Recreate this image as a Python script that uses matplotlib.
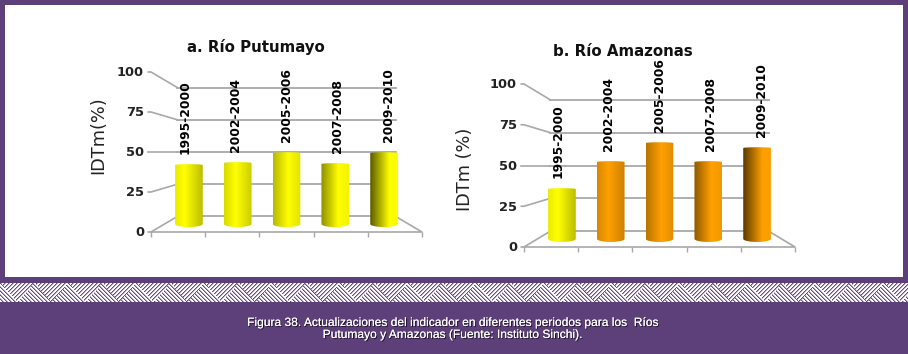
import numpy as np
import matplotlib
matplotlib.use("Agg")
import matplotlib.pyplot as plt
import matplotlib.patheffects as pe
from matplotlib.patches import PathPatch, Rectangle
from matplotlib.path import Path

W, H = 908, 354
PURPLE = "#5D3F7A"
GRID = "#A8A8A8"

#Chart values
periods = ["1995-2000", "2002-2004", "2005-2006", "2007-2008", "2009-2010"]
putumayo = [41, 42.4, 49.3, 41.7, 49.3]
amazonas = [34, 52.4, 65.3, 52.4, 61.9]
amazonas_colors = ["yellow", "orange", "orange", "orange", "orange"]
y_ticks = [0, 25, 50, 75, 100]
caption = ["Figura 38. Actualizaciones del indicador en diferentes periodos para los  Ríos",
           "Putumayo y Amazonas (Fuente: Instituto Sinchi)."]

BACK = 0.806  #perspective scale of the back wall
MID = 0.9     #perspective scale where the cylinders stand
LABEL = 0.94  #the period labels spread a little wider than the cylinders
base_rgb = {"yellow": np.array([255, 255, 0]) / 255, "orange": np.array([255, 160, 0]) / 255}
#shading of each cylinder, left edge, brightest point and right edge
left_shade = [0.92, 0.85, 0.72, 0.55, 0.35]
peak_pos = [0.35, 0.42, 0.55, 0.62, 0.7]
right_shade = [0.74, 0.8, 0.88, 0.95, 0.98]


def project(x, v, s):
    #perspective around the middle of the floor, v=50 stays level
    return 2.5 + (np.asarray(x) - 2.5) * s, 50 + (np.asarray(v) - 50) * s


def cylinder(ax, i, value, color):
    half = 0.255
    xc, top = project(i + 0.5, value, MID)
    _, bottom = project(i + 0.5, 0, MID)
    t = np.linspace(0, np.pi, 40)
    ex = np.cos(t) * half
    #top edge then bottom edge, both slightly rounded
    px = np.r_[xc + ex, xc - ex]
    py = np.r_[top + np.sin(t) * 0.5, bottom - np.sin(t) * 1.9]
    u = np.linspace(0, 1, 120)
    shade = np.interp(u, [0, peak_pos[i], 1], [left_shade[i], 1, right_shade[i]])
    img = (shade[:, None] * base_rgb[color])[None, :, :]
    im = ax.imshow(img, extent=[xc - half, xc + half, bottom - 3, top + 1],
                   aspect="auto", zorder=3, interpolation="bilinear")
    clip = PathPatch(Path(np.c_[px, py]), transform=ax.transData, fc="none", ec="none")
    ax.add_patch(clip)
    im.set_clip_path(clip)
    lx, _ = project(i + 0.5, value, LABEL)
    ax.annotate(periods[i], (lx, top), xytext=(0, 8), textcoords="offset points",
                rotation=90, ha="center", va="bottom", fontsize=8.9, fontweight="bold",
                color="black", zorder=4, annotation_clip=False)


def chart(left, right, y0, y100, values, colors):
    ax = fig.add_axes([left / W, 1 - y0 / H, (right - left) / W, (y0 - y100) / H])
    ax.set_axis_off()
    for v in y_ticks:
        bx0, by = project(0, v, BACK)
        bx1, _ = project(5, v, BACK)
        ax.plot([bx0, bx1], [by, by], color=GRID, lw=1.3, zorder=1, clip_on=False)
        ax.plot([-0.05, 0, bx0], [v, v, by], color=GRID, lw=1.2, zorder=1, clip_on=False)
        ax.annotate(str(v), (0, v), xytext=(-5, -0.7), textcoords="offset points", ha="right",
                    va="center", fontsize=9.4, fontweight="bold", color="#222222",
                    annotation_clip=False)
    bx, by = project(5, 0, BACK)
    ax.plot([0, 5, bx], [0, 0, by], color=GRID, lw=1.2, zorder=1, clip_on=False)
    ax.vlines(range(6), -3, 0, color=GRID, lw=1, clip_on=False)
    for i, value in enumerate(values):
        cylinder(ax, i, value, colors[i])
    ax.set_xlim(0, 5)
    ax.set_ylim(0, 100)
    return ax


def label(x, y, s, **kw):
    return fig.text(x / W, 1 - y / H, s, ha="center", va="center", **kw)


fig = plt.figure(figsize=(W / 100, H / 100), dpi=100, facecolor=PURPLE)

#page background: white panel and the woven band
bg = fig.add_axes([0, 0, 1, 1])
bg.set_xlim(0, W)
bg.set_ylim(H, 0)
bg.set_axis_off()
bg.add_patch(Rectangle((5, 5), 898, 272, fc="white", ec="none"))
yy, xx = np.mgrid[0:19, 0:W]
period = 34
inside = np.abs((xx % period) - period / 2) < (18.5 - yy) * (period / 2) / 19
phase = np.where(inside, (xx + yy) % 4, (xx - yy) % 4)
band = np.ones((19, W, 3))
band[phase == 0] = matplotlib.colors.to_rgb("#654A86")
band[phase == 1] = matplotlib.colors.to_rgb("#B7A8C8")
bg.imshow(band, extent=[0, W, 302, 283], aspect="auto", interpolation="nearest")
bg.set_xlim(0, W)
bg.set_ylim(H, 0)

chart(151, 422, 232, 72, putumayo, ["yellow"] * 5)
chart(524, 795, 247, 84, amazonas, amazonas_colors)

label(256, 47, "a. Río Putumayo", fontsize=10.8, fontweight="bold", color="#111111")
label(623, 52, "b. Río Amazonas", fontsize=10.8, fontweight="bold", color="#111111")
label(98, 135, "IDTm(%)", rotation=90, fontsize=12.8, color="#222222")
label(465, 169, "IDTm (%)", rotation=90, fontsize=12.8, color="#222222")

shadow = [pe.withSimplePatchShadow(offset=(0.7, -0.7), shadow_rgbFace="black", alpha=0.7), pe.Normal()]
for line, y in zip(caption, [323, 335]):
    label(453, y, line, fontsize=8.65, family="Liberation Sans", color="white", path_effects=shadow)

fig.savefig("out.png", dpi=100, facecolor=PURPLE)
